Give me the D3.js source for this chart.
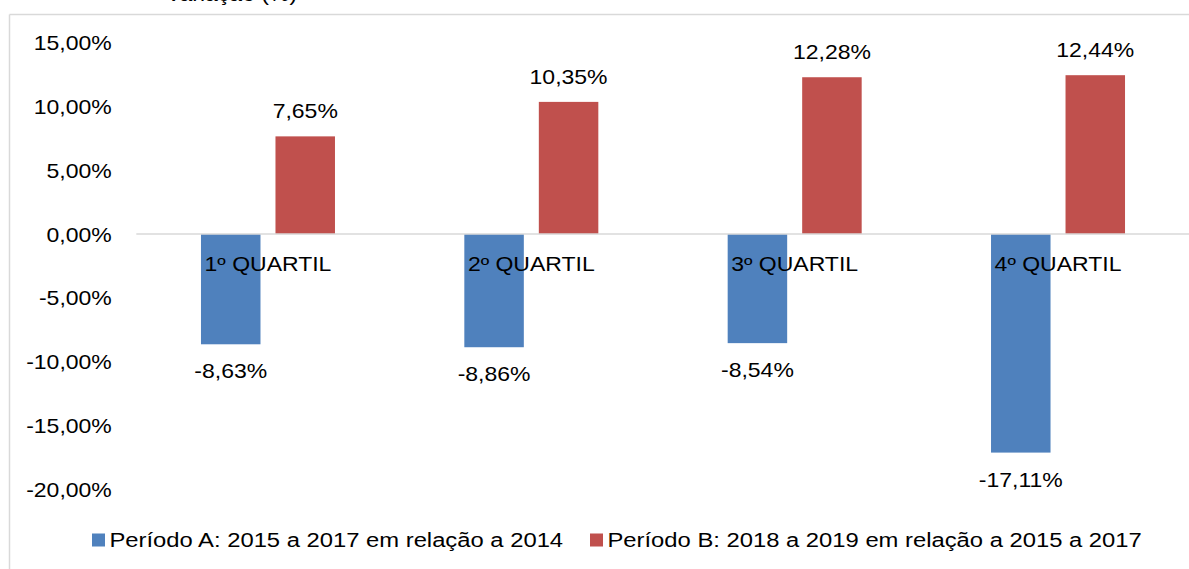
<!DOCTYPE html>
<html>
<head>
<meta charset="utf-8">
<script src="https://cdn.jsdelivr.net/npm/d3@7"></script>
<style>
  html, body { margin: 0; padding: 0; background: #fff; }
  svg { display: block; font-family: "Liberation Sans", Arial, sans-serif; }
</style>
</head>
<body>
<svg id="chart" width="1189" height="569"></svg>
<script>
// ---- data ----
const categories = ["1º QUARTIL", "2º QUARTIL", "3º QUARTIL", "4º QUARTIL"];
const seriesNames = [
  "Período A: 2015 a 2017 em relação a 2014",
  "Período B: 2018 a 2019 em relação a 2015 a 2017"
];
const periodA = [-8.63, -8.86, -8.54, -17.11];
const periodB = [7.65, 10.35, 12.28, 12.44];
const yTicks = [15, 10, 5, 0, -5, -10, -15, -20];
const titleText = "Variação (%)";
const colors = ["#4f81bd", "#c0504d"];

// ---- setup ----
const svg = d3.select("#chart");
const W = 1189, H = 569;
const plot = { left: 136.3, right: 1189.7, top: 42.5, bottom: 489.5 };
const SX = 1.15;      // horizontal stretch of text in reference
const SXL = 1.19;     // legend text stretch
const FS = 20;

const loc = d3.formatLocale({ decimal: ",", thousands: ".", grouping: [3], currency: ["", ""], minus: "-" });
const fmt = loc.format(".2f");
const pct = v => fmt(v) + "%";

const y = d3.scaleLinear().domain([-20, 15]).range([plot.bottom, plot.top]);
const x0 = d3.scaleBand().domain(categories).range([plot.left, plot.right]).padding(0);
const x1 = d3.scaleBand().domain(seriesNames).range([0, 134]).paddingInner(15 / 74.5).paddingOuter(0);
const groupOffset = (x0.bandwidth() - 134) / 2;

function stretchedText(sel, x, yy, anchor, sx, size) {
  sel.attr("x", 0).attr("y", 0)
    .attr("transform", `translate(${x},${yy}) scale(${sx},1)`)
    .attr("text-anchor", anchor)
    .attr("font-size", size)
    .attr("fill", "#000");
  return sel;
}

// frame (only top/left visible)
svg.append("line").attr("x1", 9.5).attr("x2", W).attr("y1", 14.5).attr("y2", 14.5)
  .attr("stroke", "#d9d9d9").attr("stroke-width", 1.5);
svg.append("line").attr("x1", 9.5).attr("x2", 9.5).attr("y1", 14.5).attr("y2", H)
  .attr("stroke", "#d9d9d9").attr("stroke-width", 1.5);

// clipped title fragment (only its lower edge shows in the reference)
stretchedText(svg.append("text").text(titleText), 231.5, 0.5, "middle", SX, FS);

// y axis (labels only)
const yAxis = d3.axisLeft(y).tickValues(yTicks).tickSize(0).tickFormat(pct);
const gy = svg.append("g").attr("transform", `translate(${plot.left},0)`).call(yAxis);
gy.select(".domain").remove();
gy.selectAll(".tick text")
  .attr("x", 0).attr("dy", null).attr("y", 0)
  .attr("font-family", "Liberation Sans, Arial, sans-serif")
  .attr("font-size", FS).attr("fill", "#000").attr("text-anchor", "end")
  .attr("transform", `translate(-24.5,7) scale(${SX},1)`);

// bars
const rows = categories.map((c, i) => ({ cat: c, vals: [periodA[i], periodB[i]] }));
const groups = svg.selectAll("g.cat").data(rows).join("g").attr("class", "cat")
  .attr("transform", d => `translate(${x0(d.cat) + groupOffset},0)`);

groups.selectAll("rect").data(d => d.vals.map((v, k) => ({ v, s: seriesNames[k], k })))
  .join("rect")
  .attr("x", d => x1(d.s))
  .attr("width", x1.bandwidth())
  .attr("y", d => y(Math.max(0, d.v)))
  .attr("height", d => Math.abs(y(d.v) - y(0)))
  .attr("fill", d => colors[d.k]);

// zero line
svg.append("line").attr("x1", plot.left).attr("x2", plot.right)
  .attr("y1", y(0)).attr("y2", y(0))
  .attr("stroke", "#d9d9d9").attr("stroke-width", 1.5);

// data labels
groups.each(function (d) {
  const g = d3.select(this);
  d.vals.forEach((v, k) => {
    const cx = x1(seriesNames[k]) + x1.bandwidth() / 2;
    const ty = v >= 0 ? y(v) - 18 : y(v) + 34;
    stretchedText(g.append("text").text(pct(v)), cx, ty, "middle", SX, FS);
  });
});

// category labels
categories.forEach(c => {
  stretchedText(svg.append("text").text(c), x0(c) + x0.bandwidth() / 2, y(0) + 37, "middle", SX, FS);
});

// legend
const legendX = [92, 590];
seriesNames.forEach((s, k) => {
  svg.append("rect").attr("x", legendX[k]).attr("y", 533.5).attr("width", 13).attr("height", 13)
    .attr("fill", colors[k]);
  stretchedText(svg.append("text").text(s), legendX[k] + 17.5, 546.7, "start", SXL, FS);
});
</script>
</body>
</html>
